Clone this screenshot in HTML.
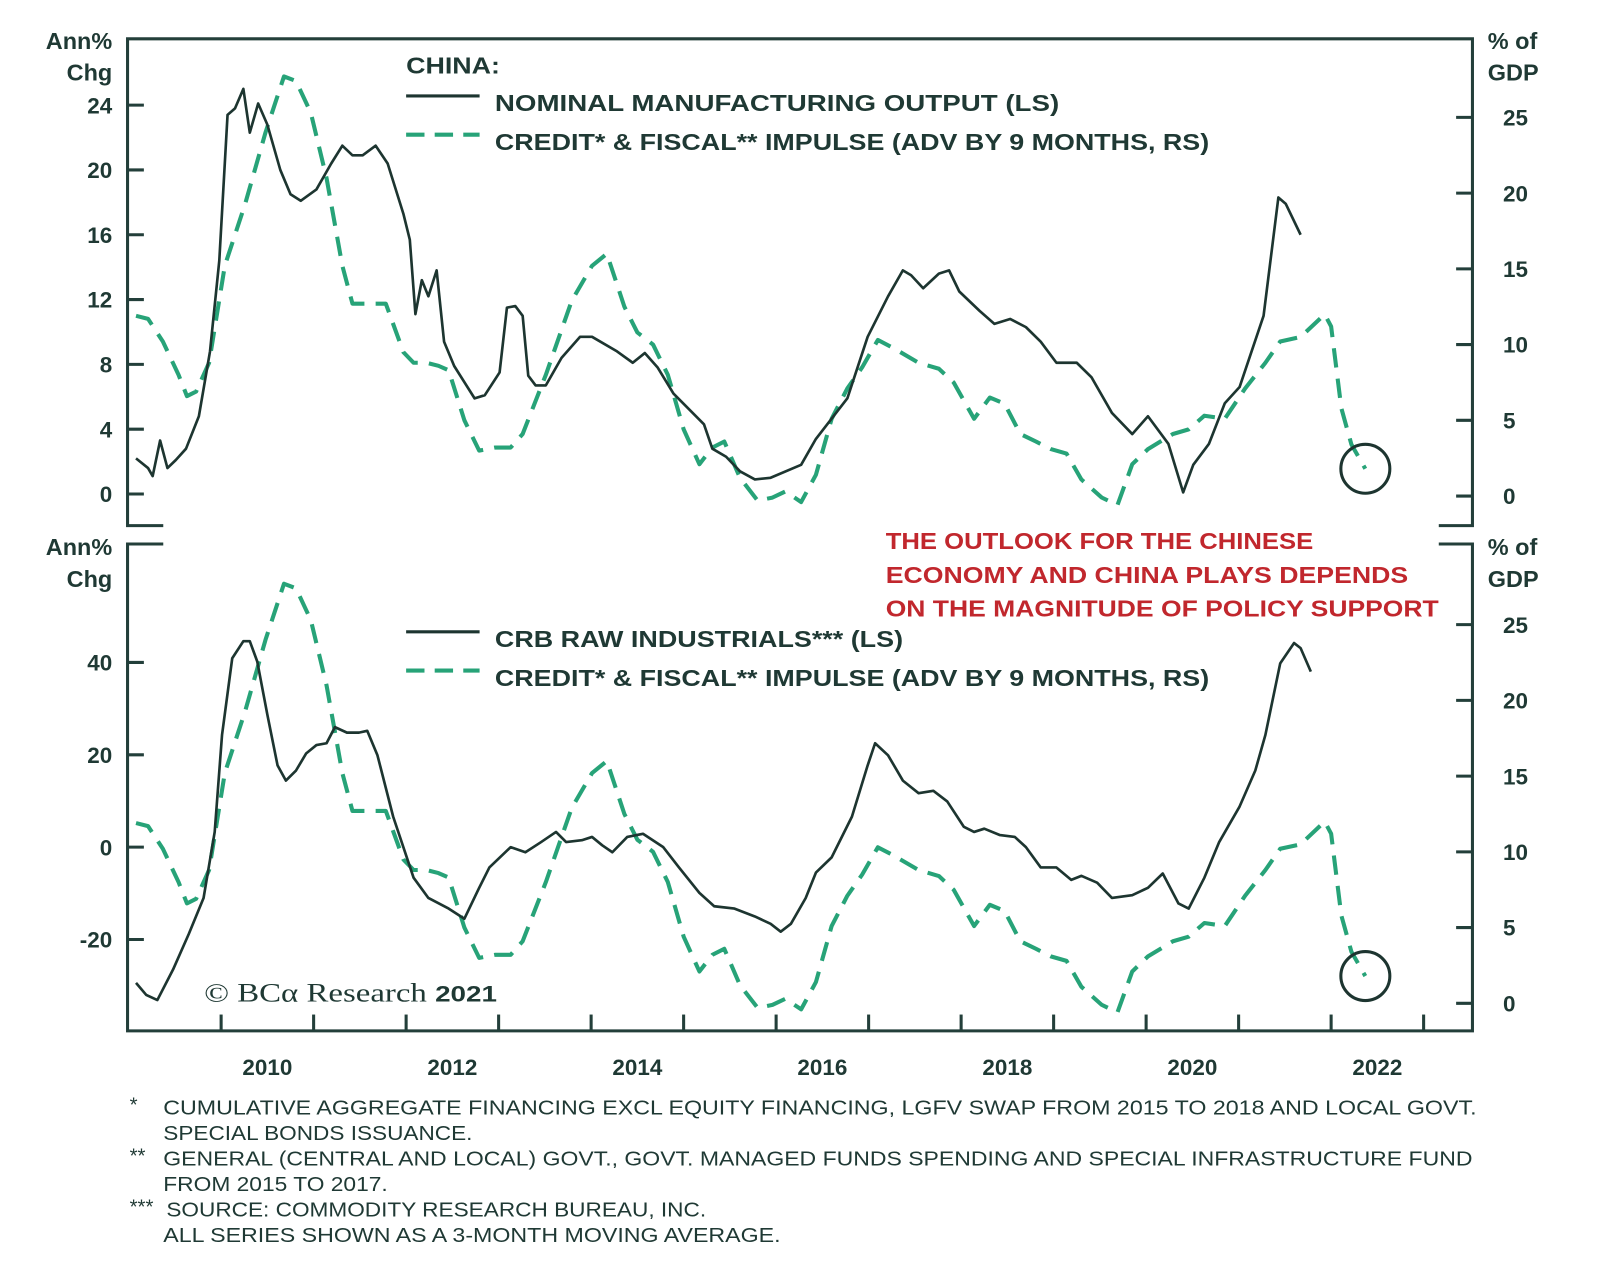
<!DOCTYPE html>
<html><head><meta charset="utf-8"><style>
html,body{margin:0;padding:0;background:#fff;}
svg{display:block;}
text{font-family:"Liberation Sans",sans-serif;fill:#1f3934;}
</style></head><body>
<svg id="chart" width="1600" height="1284" viewBox="0 0 1568 1258" preserveAspectRatio="none" xmlns="http://www.w3.org/2000/svg">
<g id="frame" stroke="#233f3a" stroke-width="3" fill="none">
<path d="M160,515 H125 V38 H1443 V515 H1410"/>
<path d="M160,533 H125 V1010 H1443 V533 H1410"/>
</g>
<g id="axes"></g>
<g id="series"></g>
<text x="110" y="48" text-anchor="end" font-size="23" font-weight="bold">Ann%</text>
<text x="110" y="79" text-anchor="end" font-size="23" font-weight="bold">Chg</text>
<text x="1458" y="48" font-size="23" font-weight="bold">% of</text>
<text x="1458" y="79" font-size="23" font-weight="bold">GDP</text>
<text x="110" y="544" text-anchor="end" font-size="23" font-weight="bold">Ann%</text>
<text x="110" y="575" text-anchor="end" font-size="23" font-weight="bold">Chg</text>
<text x="1458" y="544" font-size="23" font-weight="bold">% of</text>
<text x="1458" y="575" font-size="23" font-weight="bold">GDP</text>
<g>
<text x="398" y="72" font-size="23" font-weight="bold" textLength="92" lengthAdjust="spacingAndGlyphs">CHINA:</text>
<line x1="398" y1="94" x2="470" y2="94" stroke="#1d3530" stroke-width="3"/>
<text x="485" y="109" font-size="23" font-weight="bold" textLength="553" lengthAdjust="spacingAndGlyphs">NOMINAL MANUFACTURING OUTPUT (LS)</text>
<line x1="398" y1="132" x2="470" y2="132" stroke="#27a378" stroke-width="4" stroke-dasharray="18,10"/>
<text x="485" y="147" font-size="23" font-weight="bold" textLength="700" lengthAdjust="spacingAndGlyphs">CREDIT* &amp; FISCAL** IMPULSE (ADV BY 9 MONTHS, RS)</text>
</g>
<g>
<line x1="398" y1="619" x2="470" y2="619" stroke="#1d3530" stroke-width="3"/>
<text x="485" y="634" font-size="23" font-weight="bold" textLength="400" lengthAdjust="spacingAndGlyphs">CRB RAW INDUSTRIALS*** (LS)</text>
<line x1="398" y1="657" x2="470" y2="657" stroke="#27a378" stroke-width="4" stroke-dasharray="18,10"/>
<text x="485" y="672" font-size="23" font-weight="bold" textLength="700" lengthAdjust="spacingAndGlyphs">CREDIT* &amp; FISCAL** IMPULSE (ADV BY 9 MONTHS, RS)</text>
</g>
<g font-size="23" font-weight="bold">
<text x="868" y="538" style="fill:#c1272d" textLength="419" lengthAdjust="spacingAndGlyphs">THE OUTLOOK FOR THE CHINESE</text>
<text x="868" y="571" style="fill:#c1272d" textLength="512" lengthAdjust="spacingAndGlyphs">ECONOMY AND CHINA PLAYS DEPENDS</text>
<text x="868" y="604" style="fill:#c1272d" textLength="542" lengthAdjust="spacingAndGlyphs">ON THE MAGNITUDE OF POLICY SUPPORT</text>
</g>
<text x="200" y="981" font-size="26" style="font-family:'Liberation Serif',serif" textLength="287" lengthAdjust="spacingAndGlyphs">© BCα Research <tspan font-family="Liberation Sans" font-weight="bold" font-size="22">2021</tspan></text>
<g font-size="20">
<text x="127" y="1089">*</text><text x="160" y="1092" textLength="1287" lengthAdjust="spacingAndGlyphs">CUMULATIVE AGGREGATE FINANCING EXCL EQUITY FINANCING, LGFV SWAP FROM 2015 TO 2018 AND LOCAL GOVT.</text>
<text x="160" y="1117" textLength="303" lengthAdjust="spacingAndGlyphs">SPECIAL BONDS ISSUANCE.</text>
<text x="127" y="1139">**</text><text x="160" y="1142" textLength="1283" lengthAdjust="spacingAndGlyphs">GENERAL (CENTRAL AND LOCAL) GOVT., GOVT. MANAGED FUNDS SPENDING AND SPECIAL INFRASTRUCTURE FUND</text>
<text x="160" y="1167" textLength="220" lengthAdjust="spacingAndGlyphs">FROM 2015 TO 2017.</text>
<text x="127" y="1189">***</text><text x="163" y="1192" textLength="529" lengthAdjust="spacingAndGlyphs">SOURCE: COMMODITY RESEARCH BUREAU, INC.</text>
<text x="160" y="1217" textLength="605" lengthAdjust="spacingAndGlyphs">ALL SERIES SHOWN AS A 3-MONTH MOVING AVERAGE.</text>
</g>
</svg>
<script>
const yearLabels = [2010, 2012, 2014, 2016, 2018, 2020, 2022];
const topLeftTicks = [0, 4, 8, 12, 16, 20, 24];
const bottomLeftTicks = [-20, 0, 20, 40];
const rightTicks = [0, 5, 10, 15, 20, 25];
const mfgDates = [2009.08,2009.21,2009.26,2009.34,2009.42,2009.51,2009.62,2009.76,2009.88,2009.98,2010.07,2010.15,2010.24,2010.31,2010.40,2010.50,2010.64,2010.75,2010.86,2011.03,2011.19,2011.31,2011.42,2011.53,2011.67,2011.80,2011.97,2012.04,2012.10,2012.17,2012.24,2012.33,2012.41,2012.52,2012.74,2012.85,2013.01,2013.09,2013.18,2013.26,2013.32,2013.40,2013.51,2013.68,2013.88,2014.01,2014.28,2014.45,2014.58,2014.72,2014.89,2015.22,2015.31,2015.46,2015.61,2015.77,2015.94,2016.27,2016.43,2016.77,2016.99,2017.21,2017.37,2017.46,2017.59,2017.76,2017.87,2017.98,2018.20,2018.36,2018.53,2018.70,2018.86,2019.03,2019.25,2019.41,2019.63,2019.85,2020.02,2020.24,2020.40,2020.51,2020.68,2020.85,2021.01,2021.27,2021.43,2021.51,2021.67];
const mfgValues = [2.2,1.6,1.1,3.3,1.6,2.1,2.8,4.8,8.8,14.4,23.4,23.8,25.0,22.3,24.1,22.8,20.0,18.5,18.1,18.8,20.4,21.5,20.9,20.9,21.5,20.4,17.3,15.7,11.1,13.2,12.2,13.8,9.4,7.9,5.9,6.1,7.5,11.5,11.6,11.0,7.3,6.7,6.7,8.4,9.7,9.7,8.8,8.1,8.7,7.8,6.2,4.3,2.8,2.3,1.4,0.9,1.0,1.8,3.4,5.9,9.7,12.2,13.8,13.5,12.7,13.6,13.8,12.5,11.3,10.5,10.8,10.3,9.4,8.1,8.1,7.2,5.0,3.7,4.8,3.1,0.1,1.8,3.1,5.6,6.6,11.0,18.3,17.9,16.0];
const impulseDates = [2009.08,2009.21,2009.37,2009.54,2009.63,2009.73,2009.87,2010.04,2010.26,2010.48,2010.68,2010.81,2010.97,2011.14,2011.31,2011.42,2011.58,2011.78,2011.97,2012.08,2012.22,2012.35,2012.46,2012.63,2012.79,2012.96,2013.13,2013.26,2013.51,2013.79,2014.01,2014.17,2014.36,2014.50,2014.67,2014.83,2015.00,2015.17,2015.31,2015.44,2015.61,2015.80,2015.96,2016.10,2016.27,2016.43,2016.60,2016.77,2016.93,2017.10,2017.26,2017.54,2017.76,2017.92,2018.14,2018.31,2018.47,2018.64,2018.81,2018.97,2019.14,2019.30,2019.52,2019.69,2019.85,2020.02,2020.29,2020.46,2020.63,2020.85,2021.07,2021.29,2021.45,2021.67,2021.93,2022.00,2022.11,2022.22,2022.37];
const impulseValues = [11.9,11.7,10.2,8.0,6.6,6.9,8.8,15.2,19.3,24.0,27.7,27.4,25.3,21.0,15.2,12.7,12.7,12.7,9.5,8.8,8.8,8.6,8.3,5.0,3.0,3.2,3.2,4.1,8.0,12.9,15.2,16.0,12.5,10.8,10.0,8.0,4.4,2.1,3.2,3.6,1.2,-0.3,-0.1,0.3,-0.4,1.4,5.1,7.1,8.5,10.3,9.8,8.8,8.4,7.5,5.1,6.5,6.1,4.1,3.6,3.1,2.8,1.1,-0.1,-0.6,2.1,3.1,4.1,4.4,5.3,5.1,7.1,8.8,10.2,10.5,12.0,11.2,5.8,3.4,1.8];
const crbDates = [2009.08,2009.19,2009.31,2009.48,2009.65,2009.81,2009.93,2010.01,2010.12,2010.24,2010.31,2010.39,2010.50,2010.61,2010.70,2010.81,2010.92,2011.03,2011.14,2011.23,2011.36,2011.49,2011.58,2011.69,2011.86,2012.08,2012.24,2012.46,2012.63,2012.79,2012.90,2013.13,2013.29,2013.46,2013.62,2013.73,2013.90,2014.01,2014.12,2014.23,2014.39,2014.56,2014.78,2014.95,2015.17,2015.33,2015.55,2015.77,2015.94,2016.05,2016.16,2016.32,2016.43,2016.60,2016.82,2016.99,2017.07,2017.21,2017.37,2017.54,2017.70,2017.85,2018.03,2018.14,2018.25,2018.42,2018.58,2018.70,2018.86,2019.03,2019.19,2019.30,2019.47,2019.63,2019.85,2020.02,2020.18,2020.35,2020.46,2020.63,2020.79,2021.01,2021.18,2021.29,2021.45,2021.60,2021.67,2021.78];
const crbValues = [-29.4,-32,-33.1,-26.5,-18.8,-11,3.3,24.3,40.9,44.6,44.6,40.2,28.7,17.7,14.4,16.6,20.3,22.1,22.5,26,24.8,24.8,25.2,19.9,6.6,-6.6,-11,-13.3,-15.5,-8.8,-4.4,0,-1.1,1.1,3.3,1.1,1.5,2.2,0.4,-1.1,2.2,2.9,0,-4.4,-9.9,-12.8,-13.3,-15,-16.6,-18.3,-16.6,-11,-5.5,-2.2,6.6,17.7,22.5,19.9,14.4,11.7,12.2,9.9,4.4,3.3,4,2.6,2.2,0,-4.4,-4.4,-7.1,-6.2,-7.7,-11,-10.4,-8.8,-5.7,-12.2,-13.3,-6.6,1.1,8.8,16.6,24.3,39.8,44.2,43.1,38];
const circleValue = 1.8, circleDate = 2022.37;

const NS = 'http://www.w3.org/2000/svg';
const xScale = d => 216.7 + (d - 2010) * 90.65;
const yTopL = v => 484 - v * 15.875;
const yTopR = v => 486 - v * 14.84;
const yBotL = v => 830 - v * 4.525;
const yBotR = v => 983 - v * 14.84;

const axes = document.getElementById('axes');
const series = document.getElementById('series');
function mk(tag, attrs, parent) {
  const e = document.createElementNS(NS, tag);
  for (const k in attrs) e.setAttribute(k, attrs[k]);
  parent.appendChild(e);
  return e;
}
function tickText(x, y, anchor, label, name) {
  const t = mk('text', {x: x, y: y, 'text-anchor': anchor, 'font-size': 22, 'font-weight': 'bold'}, axes);
  
  
  t.textContent = label;
}
topLeftTicks.forEach(v => {
  const y = yTopL(v);
  mk('line', {x1: 125, x2: 141, y1: y, y2: y, stroke: '#233f3a', 'stroke-width': 3}, axes);
  tickText(110, y + 8, 'end', v, 'top-left-tick-label');
});
bottomLeftTicks.forEach(v => {
  const y = yBotL(v);
  mk('line', {x1: 125, x2: 141, y1: y, y2: y, stroke: '#233f3a', 'stroke-width': 3}, axes);
  tickText(110, y + 8, 'end', v, 'bottom-left-tick-label');
});
rightTicks.forEach(v => {
  [yTopR(v), yBotR(v)].forEach((y, i) => {
    mk('line', {x1: 1427, x2: 1443, y1: y, y2: y, stroke: '#233f3a', 'stroke-width': 3}, axes);
    tickText(1473, y + 8, 'start', v, i ? 'bottom-right-tick-label' : 'top-right-tick-label');
  });
});
for (let yr = 2009; yr <= 2023; yr++) {
  const x = xScale(yr);
  if (x < 130 || x > 1440) continue;
  mk('line', {x1: x, x2: x, y1: 994, y2: 1010, stroke: '#233f3a', 'stroke-width': 3}, axes);
}
yearLabels.forEach(yr => tickText(xScale(yr + 0.5), 1053, 'middle', yr, 'x-tick-label'));

function line(dates, vals, ys, dashed, name) {
  const d = dates.map((t, i) => (i ? 'L' : 'M') + xScale(t).toFixed(1) + ',' + ys(vals[i]).toFixed(1)).join(' ');
  const p = mk('path', {d: d, fill: 'none', stroke: dashed ? '#27a378' : '#1d3530', 'stroke-width': dashed ? 4 : 2.6, 'stroke-linejoin': 'round'}, series);
  if (dashed) p.setAttribute('stroke-dasharray', '19,11');
  
  
}
line(impulseDates, impulseValues, yTopR, true, 'top-impulse-line');
line(mfgDates, mfgValues, yTopL, false, 'manufacturing-line');
line(impulseDates, impulseValues, yBotR, true, 'bottom-impulse-line');
line(crbDates, crbValues, yBotL, false, 'crb-line');
[yTopR, yBotR].forEach((ys, i) => {
  const c = mk('circle', {cx: xScale(circleDate), cy: ys(circleValue), r: 24, fill: 'none', stroke: '#1d3530', 'stroke-width': 3}, series);
  
  
});
</script>
</body></html>
